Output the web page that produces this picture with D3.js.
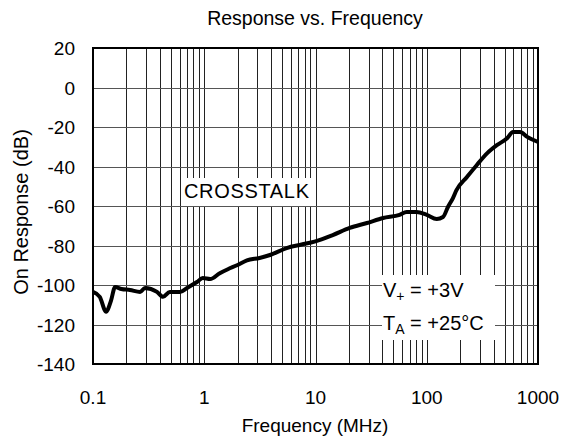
<!DOCTYPE html>
<html lang="en">
<head>
<meta charset="utf-8">
<title>Response vs. Frequency</title>
<script src="https://d3js.org/d3.v7.min.js"></script>
<style>
  body { margin: 0; background: #fff; }
  text { font-family: "Liberation Sans", Arial, sans-serif; fill: #000; }
</style>
</head>
<body>
<script>
// data (MHz, dB)
const freq = [0.1, 0.115, 0.131, 0.145, 0.158, 0.18, 0.215, 0.265, 0.293, 0.376, 0.426, 0.49, 0.605,
  0.7, 0.86, 0.97, 1.13, 1.38, 1.63, 1.97, 2.42, 3.14, 3.9, 5.5, 7.5, 9.8, 14.3, 20.3, 29, 40.5, 57,
  66, 81, 100, 123, 140, 155, 172, 185, 230, 282, 350, 430, 530, 595, 690, 800, 1000];
const resp = [-103.5, -106, -113.5, -108, -101, -102, -102.5, -103.5, -101.5, -103.5, -106, -103.5, -103.5,
  -101.5, -98.5, -96.5, -97, -94, -92, -90, -87.5, -86.3, -84.8, -81.3, -79.5, -78, -74.7, -71.1, -68.6, -66.1, -64.5,
  -63, -63, -64.5, -66.6, -65.6, -60.5, -56, -52, -45.3, -39.2, -33.2, -29.1, -25.6, -22.5, -22.5, -25, -27.6];

const xTicks = [0.1, 1, 10, 100, 1000];
const yTicks = [20, 0, -20, -40, -60, -80, -100, -120, -140];

const W = 565, H = 444;
const margin = {left: 93, top: 48, right: 27, bottom: 80};
const pw = W - margin.left - margin.right;
const ph = H - margin.top - margin.bottom;

const x = d3.scaleLog().domain([0.1, 1000]).range([0, pw]);
const y = d3.scaleLinear().domain([-140, 20]).range([ph, 0]);

const svg = d3.select("body").append("svg")
  .attr("width", W).attr("height", H);

const g = svg.append("g")
  .attr("transform", "translate(" + margin.left + "," + margin.top + ")");

// minor + major vertical grid
let vlines = [];
for (let d = 0.1; d < 1000; d *= 10) {
  for (let k = 1; k <= 9; k++) vlines.push(+(d * k).toPrecision(3));
}
vlines = vlines.filter(v => v > 0.1 && v < 1000);

g.selectAll(".vgrid").data(vlines).enter().append("line")
  .attr("class", "vgrid")
  .attr("x1", d => Math.round(x(d)) + 0.5).attr("x2", d => Math.round(x(d)) + 0.5)
  .attr("y1", 0).attr("y2", ph)
  .attr("stroke", "#222").attr("stroke-width", 1);

g.selectAll(".hgrid").data(yTicks.slice(1, -1)).enter().append("line")
  .attr("class", "hgrid")
  .attr("x1", 0).attr("x2", pw)
  .attr("y1", d => Math.round(y(d)) + 0.5).attr("y2", d => Math.round(y(d)) + 0.5)
  .attr("stroke", "#555").attr("stroke-width", 1);

// white label boxes over the grid
g.append("rect").attr("x", 89).attr("y", 130).attr("width", 133).attr("height", 28).attr("fill", "#fff");
g.append("rect").attr("x", 289).attr("y", 227).attr("width", 113).attr("height", 65).attr("fill", "#fff");

// frame
g.append("rect").attr("width", pw).attr("height", ph)
  .attr("fill", "none").attr("stroke", "#000").attr("stroke-width", 2);

// curve
const line = d3.line().x((d, i) => x(freq[i])).y(d => y(d)).curve(d3.curveMonotoneX);
g.append("path").datum(resp)
  .attr("d", line)
  .attr("fill", "none").attr("stroke", "#000").attr("stroke-width", 4)
  .attr("stroke-linejoin", "round");

// tick labels
g.selectAll(".xlab").data(xTicks).enter().append("text")
  .attr("x", d => x(d)).attr("y", ph + 40)
  .attr("text-anchor", "middle").style("font-size", "19px")
  .text(d => d);

g.selectAll(".ylab").data(yTicks).enter().append("text")
  .attr("x", -18).attr("y", d => y(d) + 7)
  .attr("text-anchor", "end").style("font-size", "19px")
  .text(d => d);

// titles
svg.append("text").attr("x", 315).attr("y", 25)
  .attr("text-anchor", "middle").style("font-size", "19.5px")
  .text("Response vs. Frequency");

svg.append("text").attr("x", 315).attr("y", 432)
  .attr("text-anchor", "middle").style("font-size", "19px")
  .text("Frequency (MHz)");

svg.append("text")
  .attr("transform", "translate(28,212) rotate(-90)")
  .attr("text-anchor", "middle").style("font-size", "20px")
  .text("On Response (dB)");

// annotations
g.append("text").attr("x", 91).attr("y", 150).style("font-size", "20px")
  .attr("textLength", 125).attr("lengthAdjust", "spacing").text("CROSSTALK");

const t1 = g.append("text").attr("x", 290).attr("y", 249).style("font-size", "20px");
t1.append("tspan").text("V");
t1.append("tspan").attr("dy", 4).style("font-size", "14px").text("+");
t1.append("tspan").attr("dy", -4).text(" = +3V");

const t2 = g.append("text").attr("x", 290).attr("y", 282).style("font-size", "20px");
t2.append("tspan").text("T");
t2.append("tspan").attr("dy", 4).style("font-size", "14px").text("A");
t2.append("tspan").attr("dy", -4).text(" = +25°C");
</script>
</body>
</html>
